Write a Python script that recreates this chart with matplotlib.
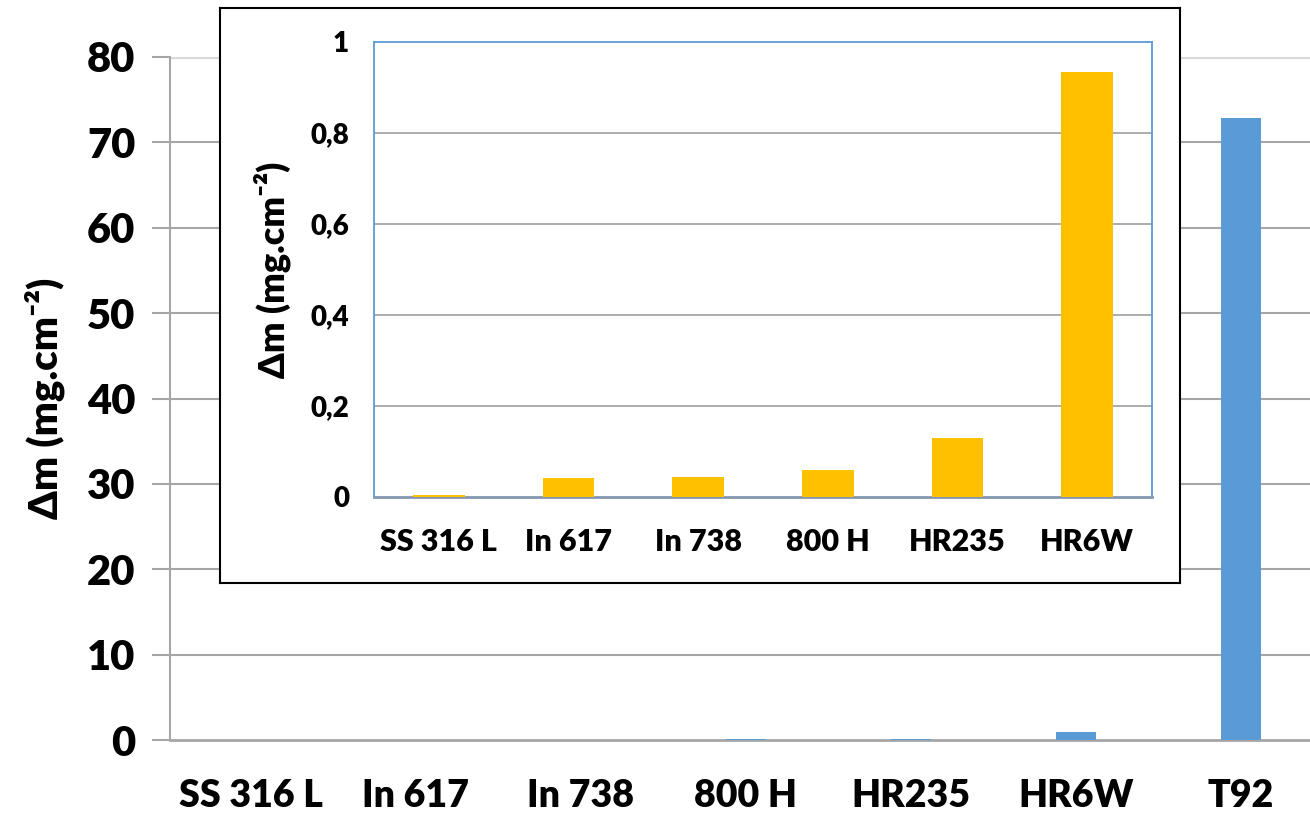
import numpy as np
import matplotlib.pyplot as plt

plt.rcParams['font.family'] = ['Lato', 'DejaVu Sans']
plt.rcParams['font.weight'] = 'heavy'

# main chart data (mg.cm-2)
alloys = ['SS 316 L', 'In 617', 'In 738', '800 H', 'HR235', 'HR6W', 'T92']
dm_all = [0.004, 0.042, 0.044, 0.059, 0.13, 0.934, 72.8]

# inset data (without T92)
alloys_in = ['SS 316 L', 'In 617', 'In 738', '800 H', 'HR235', 'HR6W']
dm_in = [0.004, 0.042, 0.044, 0.059, 0.13, 0.934]

blue = '#5B9BD5'
gold = '#FFC000'
grid_c = '#A6A6A6'
ylab = 'Δm (mg.cm⁻²)'

W, H = 1310, 819
fig = plt.figure(figsize=(W/100, H/100), dpi=100)

ax = fig.add_axes([170/W, 1-740/H, 1-170/W, (740-57)/H])
x = np.arange(len(alloys))
ax.bar(x, dm_all, width=0.24, color=blue, zorder=3)
ax.set_xlim(-0.49, 6.42)
ax.set_ylim(0, 80)
ax.set_yticks(np.arange(0, 81, 10))
for yv in range(10, 71, 10):
    ax.axhline(yv, color=grid_c, lw=1.5, zorder=1)
ax.axhline(80, color='#D9D9D9', lw=3, zorder=1)
ax.set_xticks(x)
ax.set_xticklabels(alloys, fontsize=27, fontweight='heavy')
ax.tick_params(axis='x', length=0, pad=28)
ax.tick_params(axis='y', length=13, width=1.5, color=grid_c, labelsize=30, pad=12)
for s in ['top', 'right']:
    ax.spines[s].set_visible(False)
ax.spines['left'].set_color(grid_c)
ax.spines['left'].set_linewidth(1.5)
ax.spines['bottom'].set_color(grid_c)
ax.spines['bottom'].set_linewidth(2)
ax.set_ylabel(ylab, fontsize=29, fontweight='heavy', labelpad=16)

# white framed box behind the inset
frame = fig.add_axes([220/W, 1-583/H, 960/W, 575/H])
frame.set_xticks([])
frame.set_yticks([])
frame.set_facecolor('white')
for s in frame.spines.values():
    s.set_color('black')
    s.set_linewidth(1.5)

ins = fig.add_axes([374/W, 1-497/H, 778/W, 455/H])
xi = np.arange(len(alloys_in))
ins.bar(xi, dm_in, width=0.4, color=gold, zorder=3)
ins.set_xlim(-0.5, 5.5)
ins.set_ylim(0, 1)
ins.set_yticks([0, 0.2, 0.4, 0.6, 0.8, 1])
ins.set_yticklabels(['0', '0,2', '0,4', '0,6', '0,8', '1'])
for yv in [0.2, 0.4, 0.6, 0.8]:
    ins.axhline(yv, color=grid_c, lw=1.3, zorder=1)
ins.set_xticks(xi)
ins.set_xticklabels(alloys_in, fontsize=22, fontweight='heavy')
ins.tick_params(axis='x', length=0, pad=22)
ins.tick_params(axis='y', length=0, labelsize=20, pad=18)
for s in ['top', 'left', 'right']:
    ins.spines[s].set_color(blue)
    ins.spines[s].set_linewidth(1.3)
ins.spines['bottom'].set_color('#8497B0')
ins.spines['bottom'].set_linewidth(2)
ins.set_ylabel(ylab, fontsize=26, fontweight='heavy', labelpad=14)

fig.savefig('out.png', dpi=100)
